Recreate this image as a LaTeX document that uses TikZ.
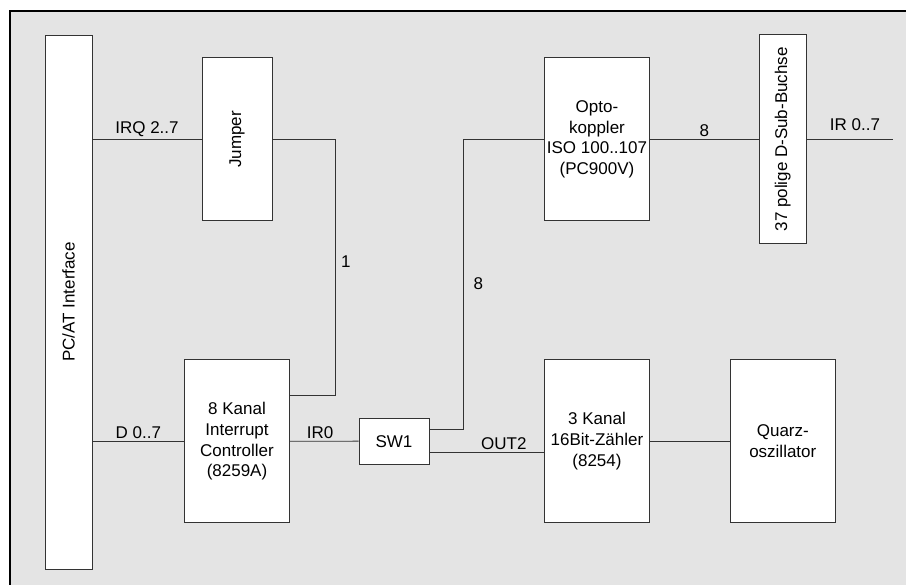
\documentclass[tikz,border=0pt]{standalone}
\usepackage{fontspec}
\setmainfont{Liberation Sans}
\usetikzlibrary{calc}
\definecolor{panel}{HTML}{E4E4E4}
\definecolor{wire}{HTML}{333333}

\begin{document}
\begin{tikzpicture}[
  x=1pt, y=1pt,
  font=\fontsize{17}{20.7}\selectfont,
  blk/.style={draw=wire, fill=white, line width=0.9pt, align=center, inner sep=0pt},
  wide/.style={blk, minimum width=104.6pt, minimum height=162.7pt},
  slim/.style={blk, minimum width=70pt, minimum height=162.7pt},
  bar/.style={blk, minimum width=47pt},
  sig/.style={draw=wire, line width=0.9pt},
  lbl/.style={inner sep=2.5pt}]
  \useasboundingbox (0,0) rectangle (906,585);
  \fill[white] (0,0) rectangle (906,585);
  \draw[fill=panel, line width=2pt] (10,574) rectangle (912,-10);
  \node[bar, minimum height=534pt] (pc) at (68.5,283) {\rotatebox{90}{PC/AT Interface}};
  \node[slim] (jumper) at (237,445.7) {\rotatebox{90}{Jumper}};
  \node[wide] (ctrl) at (237,143.7) {8 Kanal\\ Interrupt\\ Controller\\ (8259A)};
  \node[blk, minimum width=70pt, minimum height=46.3pt] (sw) at (394,143.8) {SW1};
  \node[wide] (opto) at (597,445.7) {Opto-\\ koppler\\ ISO 100..107\\ (PC900V)};
  \node[bar, minimum height=209.3pt] (dsub) at (782.8,445.7) {\rotatebox{90}{37 polige D-Sub-Buchse}};
  \node[wide] (cnt) at (597,143.7) {3 Kanal\\ 16Bit-Zähler\\ (8254)};
  \node[wide, minimum width=105pt] (quarz) at (782.8,143.7) {Quarz-\\ oszillator};
  \coordinate (jbend) at (335.7,445.7);
  \coordinate (obend) at (463.3,445.7);
  \coordinate (irout) at (893.3,445.7);
  \coordinate (swlow) at ([yshift=-11.5pt]sw.east);
  \draw[sig] (pc.east |- jumper.west) -- node[lbl, above]{IRQ 2..7} (jumper.west);
  \draw[sig] (jumper.east) -- (jbend) |- ([yshift=46.3pt]ctrl.east);
  \node[lbl, right] (one) at (338.5,323.3) {1};
  \draw[sig] (pc.east |- ctrl.west) -- node[lbl, above]{D 0..7} (ctrl.west);
  \draw[sig] (ctrl.east) -- node[lbl, above, xshift=-4pt]{IR0} (sw.west);
  \draw[sig] ([yshift=11.5pt]sw.east) -| (obend) -- (opto.west);
  \node[lbl, right] (eight) at (471,301) {8};
  \draw[sig] (swlow) -- node[lbl, above, xshift=17pt]{OUT2} (cnt.west |- swlow);
  \draw[sig] (opto.east) -- node[lbl, above]{8} (dsub.west);
  \draw[sig] (dsub.east) -- node[lbl, above=6pt, xshift=5pt]{IR 0..7} (irout);
  \draw[sig] (cnt.east) -- (quarz.west);
\end{tikzpicture}
\end{document}
